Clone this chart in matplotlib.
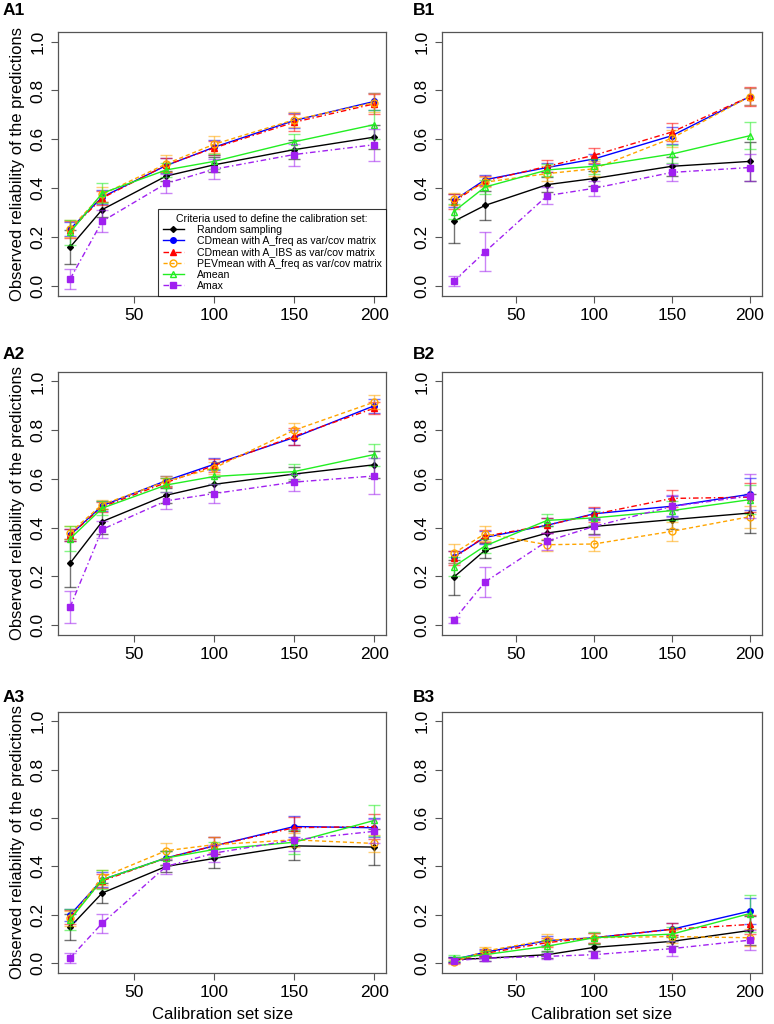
import matplotlib
matplotlib.use("Agg")
import matplotlib.pyplot as plt
import numpy as np

plt.rcParams['font.family'] = ['Liberation Sans', 'DejaVu Sans']

sizes = [10, 30, 70, 100, 150, 200]

labels = ["Random sampling",
          "CDmean with A_freq as var/cov matrix",
          "CDmean with A_IBS as var/cov matrix",
          "PEVmean with A_freq as var/cov matrix",
          "Amean",
          "Amax"]
colors = ["#000000", "#0000ff", "#ff0000", "#ffa500", "#22ee22", "#a020f0"]
linestyles = ["-", "-", (0, (4, 2, 1, 2)), (0, (3, 2)), "-", (0, (4, 2, 1, 2))]
markers = ["D", "o", "^", "o", "^", "s"]
marker_sizes = [3, 4, 5, 5, 5, 5]
marker_fill = [True, True, True, False, False, True]

# one row per criterion, same order as labels
a1_mean = [[0.16, 0.313, 0.45, 0.496, 0.558, 0.609],
           [0.234, 0.364, 0.493, 0.568, 0.677, 0.755],
           [0.23, 0.36, 0.495, 0.565, 0.67, 0.745],
           [0.235, 0.375, 0.50, 0.58, 0.68, 0.75],
           [0.22, 0.38, 0.475, 0.51, 0.59, 0.66],
           [0.03, 0.265, 0.42, 0.478, 0.538, 0.578]]
a1_err = [[0.07, 0.03, 0.02, 0.03, 0.04, 0.05],
          [0.03, 0.03, 0.03, 0.03, 0.03, 0.035],
          [0.035, 0.03, 0.03, 0.03, 0.035, 0.04],
          [0.035, 0.03, 0.035, 0.035, 0.03, 0.04],
          [0.05, 0.04, 0.03, 0.03, 0.03, 0.06],
          [0.04, 0.045, 0.04, 0.04, 0.045, 0.065]]

b1_mean = [[0.265, 0.33, 0.415, 0.44, 0.49, 0.51],
           [0.35, 0.435, 0.485, 0.52, 0.615, 0.775],
           [0.345, 0.43, 0.49, 0.535, 0.63, 0.775],
           [0.355, 0.425, 0.46, 0.48, 0.605, 0.775],
           [0.305, 0.405, 0.475, 0.49, 0.54, 0.615],
           [0.02, 0.14, 0.37, 0.40, 0.465, 0.485]]
b1_err = [[0.09, 0.06, 0.03, 0.03, 0.04, 0.08],
          [0.025, 0.02, 0.02, 0.02, 0.035, 0.035],
          [0.03, 0.02, 0.025, 0.03, 0.035, 0.04],
          [0.025, 0.02, 0.03, 0.03, 0.035, 0.035],
          [0.03, 0.03, 0.025, 0.03, 0.035, 0.055],
          [0.02, 0.08, 0.035, 0.03, 0.035, 0.055]]

a2_mean = [[0.255, 0.425, 0.533, 0.578, 0.62, 0.658],
           [0.37, 0.49, 0.593, 0.66, 0.77, 0.90],
           [0.37, 0.485, 0.585, 0.655, 0.775, 0.89],
           [0.38, 0.495, 0.59, 0.645, 0.80, 0.915],
           [0.355, 0.48, 0.575, 0.61, 0.63, 0.70],
           [0.075, 0.393, 0.51, 0.54, 0.587, 0.612]]
a2_err = [[0.1, 0.05, 0.03, 0.03, 0.03, 0.055],
          [0.025, 0.02, 0.02, 0.025, 0.03, 0.03],
          [0.025, 0.02, 0.02, 0.025, 0.035, 0.025],
          [0.025, 0.02, 0.02, 0.025, 0.03, 0.03],
          [0.05, 0.03, 0.03, 0.03, 0.03, 0.045],
          [0.065, 0.035, 0.035, 0.04, 0.035, 0.075]]

b2_mean = [[0.197, 0.307, 0.378, 0.405, 0.433, 0.46],
           [0.28, 0.36, 0.41, 0.457, 0.488, 0.537],
           [0.275, 0.365, 0.41, 0.455, 0.52, 0.525],
           [0.295, 0.375, 0.33, 0.333, 0.385, 0.445],
           [0.24, 0.325, 0.43, 0.44, 0.47, 0.515],
           [0.02, 0.177, 0.345, 0.405, 0.487, 0.53]]
b2_err = [[0.072, 0.03, 0.03, 0.03, 0.04, 0.08],
          [0.025, 0.025, 0.03, 0.025, 0.04, 0.065],
          [0.03, 0.025, 0.03, 0.03, 0.035, 0.06],
          [0.04, 0.03, 0.025, 0.03, 0.04, 0.045],
          [0.04, 0.03, 0.025, 0.03, 0.04, 0.06],
          [0.012, 0.06, 0.035, 0.035, 0.045, 0.09]]

a3_mean = [[0.15, 0.29, 0.40, 0.433, 0.485, 0.48],
           [0.20, 0.345, 0.435, 0.485, 0.565, 0.56],
           [0.19, 0.34, 0.435, 0.485, 0.56, 0.565],
           [0.185, 0.355, 0.465, 0.49, 0.51, 0.495],
           [0.18, 0.345, 0.435, 0.47, 0.50, 0.59],
           [0.022, 0.165, 0.40, 0.455, 0.51, 0.545]]
a3_err = [[0.055, 0.04, 0.025, 0.04, 0.06, 0.075],
          [0.025, 0.03, 0.03, 0.035, 0.045, 0.04],
          [0.03, 0.03, 0.03, 0.035, 0.045, 0.05],
          [0.03, 0.03, 0.03, 0.03, 0.03, 0.035],
          [0.045, 0.04, 0.03, 0.03, 0.05, 0.065],
          [0.02, 0.04, 0.03, 0.035, 0.045, 0.05]]

b3_mean = [[0.015, 0.02, 0.035, 0.065, 0.09, 0.135],
           [0.015, 0.045, 0.093, 0.105, 0.14, 0.215],
           [0.01, 0.04, 0.085, 0.105, 0.14, 0.16],
           [0.005, 0.05, 0.095, 0.105, 0.11, 0.105],
           [0.02, 0.035, 0.07, 0.105, 0.12, 0.205],
           [0.01, 0.02, 0.028, 0.035, 0.06, 0.095]]
b3_err = [[0.01, 0.01, 0.015, 0.015, 0.02, 0.06],
          [0.01, 0.015, 0.02, 0.02, 0.025, 0.055],
          [0.01, 0.015, 0.02, 0.02, 0.025, 0.04],
          [0.01, 0.015, 0.025, 0.02, 0.025, 0.035],
          [0.012, 0.015, 0.025, 0.025, 0.03, 0.075],
          [0.01, 0.01, 0.012, 0.015, 0.03, 0.04]]

panels = [("A1", a1_mean, a1_err), ("B1", b1_mean, b1_err),
          ("A2", a2_mean, a2_err), ("B2", b2_mean, b2_err),
          ("A3", a3_mean, a3_err), ("B3", b3_mean, b3_err)]

fig = plt.figure(figsize=(7.74, 10.24), dpi=100)

col_left = [0.075, 0.571]
col_width = [0.424, 0.413]
row_bottom = [0.711, 0.380, 0.050]
row_height = [0.258, 0.257, 0.255]
# panel letters: left edge (fig fraction) per column, top (pixels) per row
label_x = [3 / 774, 413 / 774]
label_top = [3, 347, 690]

frame_col = "#555555"

for k, (name, means, errs) in enumerate(panels):
	r, c = k // 2, k % 2
	ax = fig.add_axes([col_left[c], row_bottom[r], col_width[c], row_height[r]])
	for i in range(len(labels)):
		m = np.array(means[i])
		e = np.array(errs[i])
		ax.errorbar(sizes, m, yerr=e, fmt="none", ecolor=colors[i], alpha=0.55,
			elinewidth=1, capsize=4, capthick=1)
		ax.plot(sizes, m, color=colors[i], linestyle=linestyles[i], lw=1,
			marker=markers[i], ms=marker_sizes[i],
			mfc=colors[i] if marker_fill[i] else "none", mec=colors[i], mew=1,
			label=labels[i])
	ax.set_xlim(2.4, 207.6)
	ax.set_ylim(-0.04, 1.04)
	ax.set_xticks([50, 100, 150, 200])
	ax.set_yticks([0.0, 0.2, 0.4, 0.6, 0.8, 1.0])
	ax.set_yticklabels(["0.0", "0.2", "0.4", "0.6", "0.8", "1.0"], rotation=90, va="center")
	ax.tick_params(direction="out", length=5, width=0.8, color=frame_col, labelsize=12.5,
		pad=4)
	for s in ax.spines.values():
		s.set_color(frame_col)
		s.set_linewidth(0.9)
	if c == 0:
		ax.set_ylabel("Observed reliability of the predictions", fontsize=12, labelpad=4)
	if r == 2:
		ax.set_xlabel("Calibration set size", fontsize=12, labelpad=5)
	fig.text(label_x[c], 1 - label_top[r] / 1024, name, fontsize=12.5, fontweight="bold",
		va="top", ha="left")
	if name == "A1":
		leg = ax.legend(loc="lower right", fontsize=7.6, frameon=True, fancybox=False,
			edgecolor="black", borderaxespad=0, handlelength=2.0, handletextpad=1.2,
			title="Criteria used to define the calibration set:", title_fontsize=7.6,
			labelspacing=0.12, borderpad=0.45)
		leg.get_frame().set_linewidth(0.8)

fig.savefig("out.png", dpi=100)
